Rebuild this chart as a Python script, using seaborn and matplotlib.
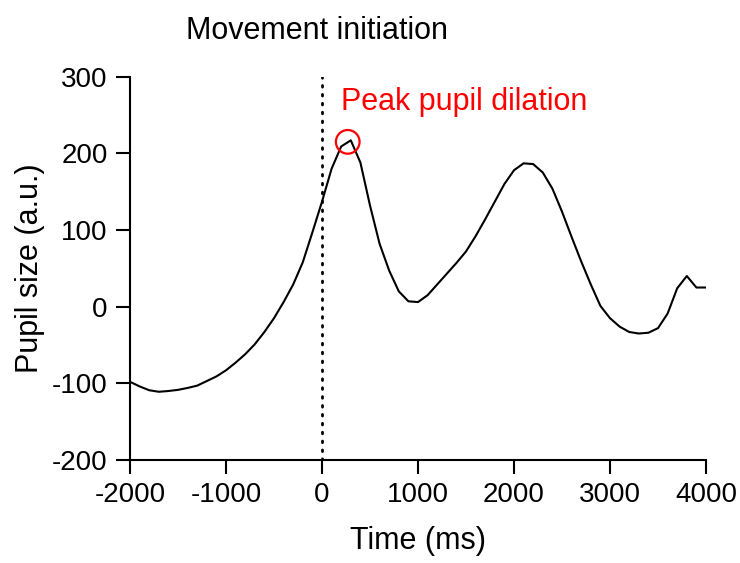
import matplotlib
matplotlib.use("Agg")
import matplotlib.pyplot as plt
import seaborn as sns
import pandas as pd

time_ms = [-2000, -1900, -1800, -1700, -1600, -1500, -1400, -1300, -1200, -1100,
           -1000, -900, -800, -700, -600, -500, -400, -300, -200, -100,
           0, 100, 200, 300, 400, 500, 600, 700, 800, 900,
           1000, 1100, 1200, 1300, 1400, 1500, 1600, 1700, 1800, 1900,
           2000, 2100, 2200, 2300, 2400, 2500, 2600, 2700, 2800, 2900,
           3000, 3100, 3200, 3300, 3400, 3500, 3600, 3700, 3800, 3900, 4000]
pupil_size = [-98, -104, -109, -111, -110, -108.5, -106, -103, -97, -91,
              -83, -73, -62, -49, -33, -15, 6, 29, 58, 97,
              137, 180, 209, 217, 188, 132, 82, 47, 20, 7,
              6, 15, 29, 43, 57, 72, 92, 114, 137, 160,
              178, 187, 186, 175, 154, 124, 91, 59, 29, 1,
              -15, -26, -33, -35, -34, -28, -9, 24, 40, 25, 25]

x_ticks = [-2000, -1000, 0, 1000, 2000, 3000, 4000]
y_ticks = [-200, -100, 0, 100, 200, 300]
peak_x, peak_y = 268, 215
event_x = 0

title_text = "Movement initiation"
peak_text = "Peak pupil dilation"
x_label = "Time (ms)"
y_label = "Pupil size (a.u.)"

sns.set_style("ticks")
plt.rcParams["font.family"] = ["Liberation Sans", "DejaVu Sans"]
plt.rcParams["axes.unicode_minus"] = False
for k in ["text.color", "axes.labelcolor", "xtick.color", "ytick.color",
          "xtick.labelcolor", "ytick.labelcolor", "axes.edgecolor"]:
    plt.rcParams[k] = "black"

df = pd.DataFrame({"time": time_ms, "pupil": pupil_size})

fig = plt.figure(figsize=(7.4, 5.63), dpi=100)
ax = fig.add_axes([130/740, 1 - 460/563, (706 - 130)/740, (460 - 76.7)/563])

sns.lineplot(data=df, x="time", y="pupil", color="black", linewidth=1.5, ax=ax)
ax.axvline(event_x, color="black", linewidth=2.0, linestyle=(0, (0.6, 2.6)),
           dash_capstyle="round", zorder=1)
ax.scatter([peak_x], [peak_y], s=290, facecolors="none", edgecolors="red",
           linewidths=1.6, zorder=3)
ax.text(202, 256, peak_text, color="red", fontsize=22, ha="left", va="baseline")

ax.set_xlim(-2000, 4000)
ax.set_ylim(-200, 300)
ax.set_xticks(x_ticks)
ax.set_yticks(y_ticks)
ax.tick_params(axis="both", labelsize=20, length=10, width=1.5, pad=6, color="black")
for s in ["top", "right"]:
    ax.spines[s].set_visible(False)
for s in ["left", "bottom"]:
    ax.spines[s].set_linewidth(1.5)
    ax.spines[s].set_color("black")

ax.set_xlabel(x_label, fontsize=22, labelpad=13)
ax.set_ylabel(y_label, fontsize=22, labelpad=5)

fig.text(317/740, 1 - 39/563, title_text, fontsize=22, ha="center", va="baseline")

fig.savefig("out.png", dpi=100)
